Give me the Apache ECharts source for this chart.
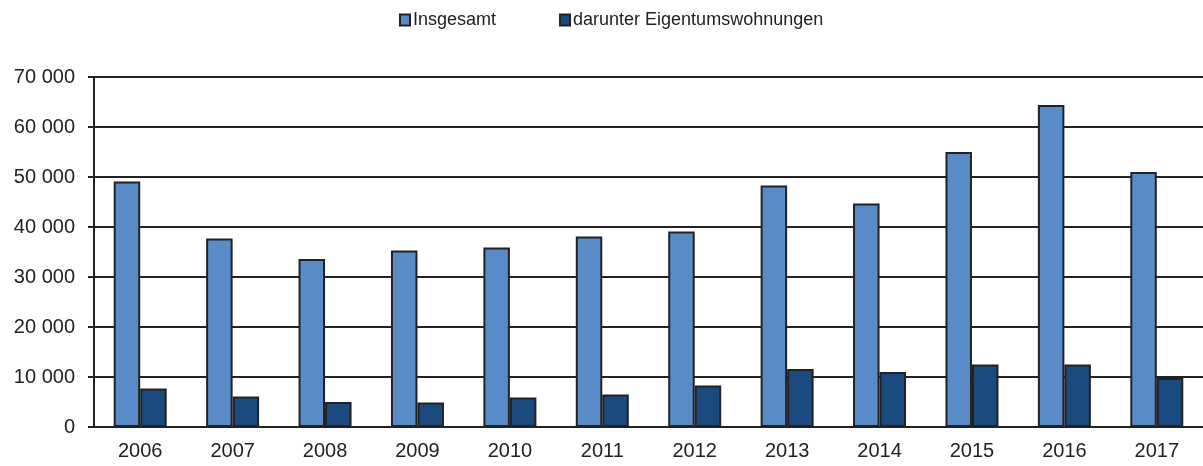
<!DOCTYPE html>
<html>
<head>
<meta charset="utf-8">
<script src="https://cdn.jsdelivr.net/npm/echarts@6/dist/echarts.min.js"></script>
<style>
  * { margin: 0; padding: 0; }
  html, body { width: 1203px; height: 466px; background: #fff; overflow: hidden; }
  #main { width: 1203px; height: 466px; }
</style>
</head>
<body>
<div id="main"></div>
<script>
// Jahre
var years = ['2006', '2007', '2008', '2009', '2010', '2011', '2012', '2013', '2014', '2015', '2016', '2017']
// Insgesamt
var insgesamt = [49100, 37700, 33600, 35300, 35900, 38100, 39100, 48300, 44700, 55000, 64400, 51000]
// darunter Eigentumswohnungen
var eigentum = [7700, 6100, 5000, 4900, 5900, 6500, 8300, 11600, 11000, 12500, 12500, 9800]

var seriesNames = ['Insgesamt', 'darunter Eigentumswohnungen']

var myChart = echarts.init(document.getElementById('main'))

function fmt (v) {
  return String(v).replace(/\B(?=(\d{3})+(?!\d))/g, ' ')
}

var option = {
  animation: false,
  textStyle: { fontFamily: 'Liberation Sans, Arial, sans-serif', color: '#222' },
  legend: {
    left: 394,
    top: 6,
    itemWidth: 10,
    itemHeight: 11,
    itemGap: 63,
    icon: 'rect',
    textStyle: { fontSize: 18, color: '#222', padding: [0, 0, 0, -2] },
    data: seriesNames
  },
  grid: {
    left: 94,
    right: -2,
    top: 77,
    bottom: 39
  },
  xAxis: {
    type: 'category',
    data: years,
    axisLine: { show: true, lineStyle: { color: '#222', width: 2 } },
    axisTick: { show: false },
    axisLabel: { fontSize: 20, color: '#222', margin: 14 }
  },
  yAxis: {
    type: 'value',
    min: 0,
    max: 70000,
    interval: 10000,
    axisLine: { show: true, lineStyle: { color: '#222', width: 2 } },
    axisTick: { show: true, length: 6, lineStyle: { color: '#222', width: 2 } },
    axisLabel: { fontSize: 20, color: '#222', margin: 19, formatter: fmt },
    splitLine: { show: true, lineStyle: { color: '#222', width: 2 } }
  },
  series: [{
    name: seriesNames[0],
    type: 'bar',
    data: insgesamt,
    barWidth: 26.5,
    barGap: '0%',
    itemStyle: { color: '#588bc8', borderColor: '#222', borderWidth: 2 }
  }, {
    name: seriesNames[1],
    type: 'bar',
    data: eigentum,
    barWidth: 26.5,
    barGap: '0%',
    itemStyle: { color: '#1a4a7e', borderColor: '#222', borderWidth: 2 }
  }]
}

myChart.setOption(option)
</script>
</body>
</html>
